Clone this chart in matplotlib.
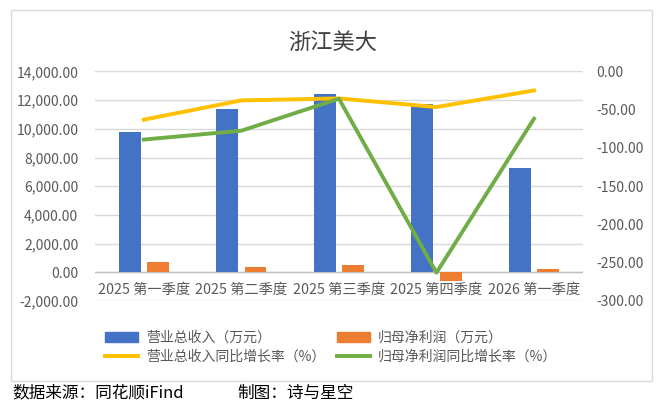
import matplotlib
matplotlib.use('Agg')
import matplotlib.pyplot as plt
from matplotlib.patches import Rectangle
from matplotlib.lines import Line2D
from matplotlib.patches import Patch
import numpy as np

plt.rcParams['font.family'] = ['Noto Sans CJK SC', 'DejaVu Sans']

# data
quarters = ['2025 第一季度', '2025 第二季度', '2025 第三季度', '2025 第四季度', '2026 第一季度']
revenue = [9790, 11380, 12420, 11730, 7280]          # 营业总收入（万元）
net_profit = [750, 400, 540, -630, 260]              # 归母净利润（万元）
revenue_yoy = [-63.0, -37.8, -35.2, -46.5, -24.8]    # 营业总收入同比增长率（%）
profit_yoy = [-89.0, -77.4, -35.6, -263.0, -61.7]    # 归母净利润同比增长率（%）

blue = '#4472C4'
orange = '#ED7D31'
yellow = '#FFC000'
green = '#70AD47'
grey_txt = '#595959'

fig = plt.figure(figsize=(6.61, 4.05), dpi=100)
fig.patch.set_facecolor('white')

# outer chart border
fig.add_artist(Rectangle((11 / 661, 1 - 381 / 405), 641 / 661, 371 / 405,
                         transform=fig.transFigure, fill=False,
                         edgecolor='#d9d9d9', linewidth=1))

ax = fig.add_axes([0.1437, 0.2568, 0.738, 0.5667])
ax2 = ax.twinx()

x = np.arange(len(quarters))
w = 0.225
ax.bar(x - 0.145, revenue, w, color=blue, zorder=3)
ax.bar(x + 0.145, net_profit, w, color=orange, zorder=3)

ax.set_ylim(-2000, 14000)
ax.set_yticks(np.arange(-2000, 14001, 2000))
ax.set_yticklabels([f'{v:,.2f}' for v in np.arange(-2000, 14001, 2000)])
ax.set_xlim(-0.5, len(quarters) - 0.5)
ax.set_xticks([])
ax.grid(axis='y', color='#d9d9d9', linewidth=1, zorder=0)
ax.axhline(0, color='#bfbfbf', linewidth=1, zorder=2)
for s in ax.spines.values():
    s.set_visible(False)
ax.tick_params(axis='y', length=0, pad=12, labelsize=10, labelcolor=grey_txt)

for i, q in enumerate(quarters):
    ax.text(i, -1200, q, ha='center', va='center', fontsize=10.3, color=grey_txt)

ax2.plot(x, revenue_yoy, color=yellow, linewidth=2.8, zorder=4)
ax2.plot(x, profit_yoy, color=green, linewidth=2.8, zorder=4)
ax2.set_ylim(-300, 0)
ax2.set_yticks(np.arange(-300, 1, 50))
ax2.set_yticklabels([f'{v:.2f}' for v in np.arange(-300, 1, 50)])
for s in ax2.spines.values():
    s.set_visible(False)
ax2.tick_params(axis='y', length=0, pad=10, labelsize=10, labelcolor=grey_txt)

fig.text(333 / 661, 1 - 42 / 405, '浙江美大', ha='center', va='center',
         fontsize=16, color='#404040')

handles = [Patch(color=blue), Line2D([], [], color=yellow, linewidth=2.8),
           Patch(color=orange), Line2D([], [], color=green, linewidth=2.8)]
labels = ['营业总收入（万元）', '营业总收入同比增长率（%）',
          '归母净利润（万元）', '归母净利润同比增长率（%）']
fig.legend(handles, labels, ncol=2, loc='upper left',
           bbox_to_anchor=(92 / 661, 1 - 318 / 405), frameon=False,
           fontsize=10, handlelength=2.4, handleheight=0.7, handletextpad=0.6,
           columnspacing=0.8, labelspacing=0.35, labelcolor=grey_txt)

fig.text(12 / 661, 1 - 393 / 405, '数据来源：同花顺iFind',
         ha='left', va='center', fontsize=12, color='black')
fig.text(237 / 661, 1 - 393 / 405, '制图：诗与星空',
         ha='left', va='center', fontsize=12, color='black')

fig.savefig('out.png', dpi=100)
